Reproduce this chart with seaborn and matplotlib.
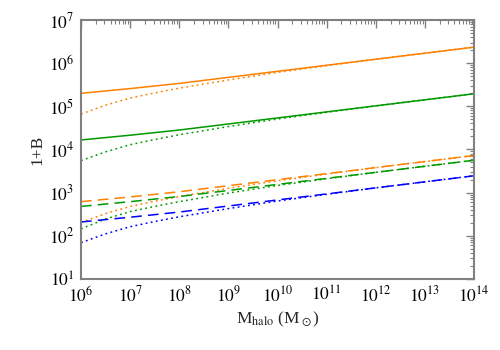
import numpy as np
import pandas as pd
import seaborn as sns
import matplotlib
matplotlib.use("Agg")
import matplotlib.pyplot as plt
from matplotlib.ticker import LogLocator, FixedLocator, NullFormatter

# halo mass grid (M_sun)
m_halo = [1e6, 3.16e6, 1e7, 3.16e7, 1e8, 1e9, 1e10, 1e11, 1e12, 1e13, 1e14]

# log10(1+B)
orange_solid = [5.30, 5.355, 5.41, 5.47, 5.53, 5.67, 5.81, 5.95, 6.09, 6.23, 6.37]
orange_dot_hi = [4.82, 5.025, 5.19, 5.31, 5.42, 5.61, 5.785, 5.94, 6.09, 6.23, 6.37]
green_solid = [4.22, 4.275, 4.33, 4.39, 4.45, 4.59, 4.73, 4.87, 5.01, 5.15, 5.29]
green_dot_hi = [3.74, 3.945, 4.11, 4.23, 4.34, 4.53, 4.705, 4.86, 5.01, 5.15, 5.29]
orange_dash = [2.79, 2.845, 2.90, 2.96, 3.02, 3.16, 3.30, 3.44, 3.58, 3.72, 3.86]
orange_dot_lo = [2.31, 2.515, 2.68, 2.80, 2.91, 3.10, 3.275, 3.43, 3.58, 3.72, 3.86]
green_dash = [2.68, 2.735, 2.79, 2.85, 2.91, 3.05, 3.19, 3.33, 3.47, 3.61, 3.75]
green_dot_lo = [2.16, 2.39, 2.56, 2.68, 2.79, 2.99, 3.165, 3.32, 3.47, 3.61, 3.75]
blue_dash = [2.32, 2.375, 2.43, 2.49, 2.55, 2.69, 2.83, 2.97, 3.11, 3.25, 3.39]
blue_dot = [1.84, 2.045, 2.21, 2.33, 2.44, 2.63, 2.805, 2.96, 3.11, 3.25, 3.39]

ORANGE = "#ff8000"
GREEN = "#009a00"
BLUE = "#0000ff"
SOLID = "-"
DASH = (0, (7, 4))
DOT = (0, (1.2, 2.2))

lines = [
    (orange_solid, ORANGE, SOLID),
    (orange_dot_hi, ORANGE, DOT),
    (green_solid, GREEN, SOLID),
    (green_dot_hi, GREEN, DOT),
    (orange_dash, ORANGE, DASH),
    (orange_dot_lo, ORANGE, DOT),
    (green_dash, GREEN, DASH),
    (green_dot_lo, GREEN, DOT),
    (blue_dash, BLUE, DASH),
    (blue_dot, BLUE, DOT),
]

sns.set_theme(style="white")
plt.rcParams["font.family"] = ["Liberation Serif", "DejaVu Serif"]
plt.rcParams["mathtext.fontset"] = "stix"

fig = plt.figure(figsize=(5, 3.5), dpi=100)
ax = fig.add_axes([0.162, 0.203, 0.786, 0.740])

for vals, col, ls in lines:
    df = pd.DataFrame({"m": m_halo, "b": 10 ** np.array(vals)})
    sns.lineplot(data=df, x="m", y="b", ax=ax, color=col, linestyle=ls,
                 linewidth=1.1, estimator=None, sort=False)

ax.set_xscale("log")
ax.set_yscale("log")
ax.set_xlim(1e6, 1e14)
ax.set_ylim(1e1, 1e7)

ax.xaxis.set_major_locator(FixedLocator([10.0 ** k for k in range(6, 15)]))
ax.yaxis.set_major_locator(FixedLocator([10.0 ** k for k in range(1, 8)]))
ax.set_xticklabels([rf"$10^{{{k}}}$" for k in range(6, 15)])
ax.set_yticklabels([rf"$10^{{{k}}}$" for k in range(1, 8)])
ax.xaxis.set_minor_locator(LogLocator(base=10, subs=np.arange(2, 10), numticks=20))
ax.yaxis.set_minor_locator(LogLocator(base=10, subs=np.arange(2, 10), numticks=20))
ax.xaxis.set_minor_formatter(NullFormatter())
ax.yaxis.set_minor_formatter(NullFormatter())

ax.tick_params(which="both", direction="in", top=True, right=True,
               color="#808080", labelsize=12.5, labelcolor="black")
ax.tick_params(which="major", length=6, width=1.0, pad=5)
ax.tick_params(which="minor", length=3, width=0.8)
for sp in ax.spines.values():
    sp.set_color("#808080")
    sp.set_linewidth(1.5)

ax.set_xlabel(r"M$_{\rm halo}$ (M$_\odot$)", fontsize=12.5, labelpad=3)
ax.set_ylabel("1+B", fontsize=12.5, labelpad=2)

fig.savefig("out.png", dpi=100)
